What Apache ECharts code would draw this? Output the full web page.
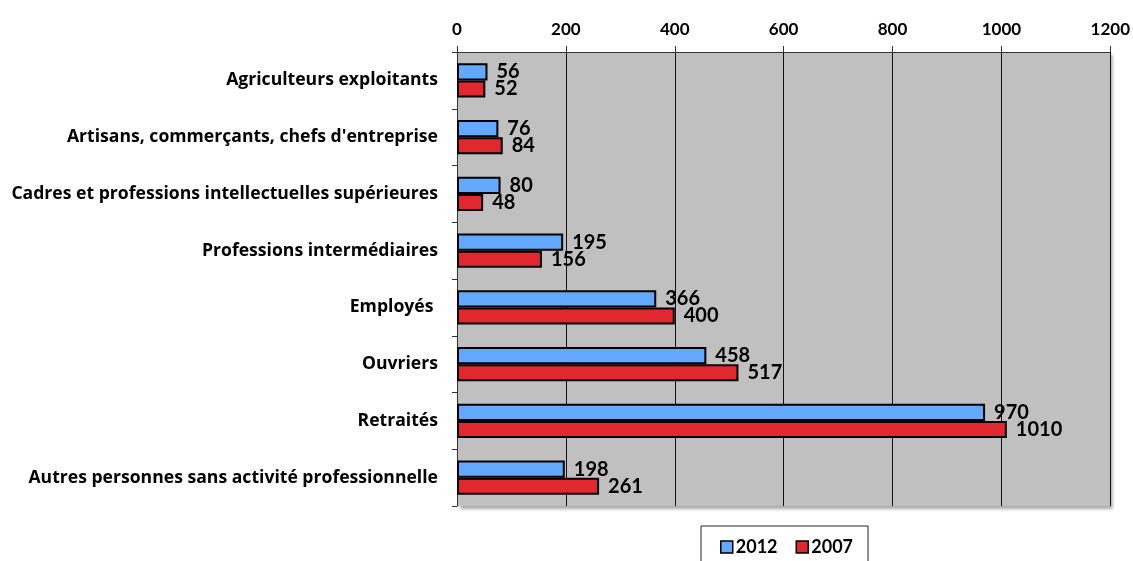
<!DOCTYPE html>
<html><head><meta charset="utf-8">
<script src="https://cdn.jsdelivr.net/npm/echarts@6/dist/echarts.min.js"></script>
<style>html,body{margin:0;padding:0;background:#fff}#c{width:1133px;height:561px}</style>
</head><body><div id="c"></div>
<script>
const categories = ["Agriculteurs exploitants","Artisans, commerçants, chefs d'entreprise","Cadres et professions intellectuelles supérieures","Professions intermédiaires","Employés ","Ouvriers","Retraités","Autres personnes sans activité professionnelle"];
const values2012 = [56,76,80,195,366,458,970,198];
const values2007 = [52,84,48,156,400,517,1010,261];
const xTicks = {min:0,max:1200,interval:200};
const FONT = 'Lato';
const chart = echarts.init(document.getElementById('c'));
const lbl = {show:true,position:'right',distance:9,color:'#000',fontFamily:FONT,fontWeight:'bold',fontSize:20};
chart.setOption({
  animation:false,
  grid:{left:457,right:22,top:52,bottom:55,show:true,backgroundColor:'#C0C0C0',borderWidth:0,shadowColor:'rgba(0,0,0,0.35)',shadowOffsetX:3,shadowOffsetY:3,shadowBlur:3},
  legend:{top:526,left:701,padding:[12,15,12,19],borderColor:'#222',borderWidth:1,itemWidth:12,itemHeight:12,itemGap:18,
    textStyle:{fontFamily:FONT,fontWeight:'bold',fontSize:18,color:'#000',padding:[0,0,0,-2]},
    data:[{name:'2012',icon:'rect',itemStyle:{borderColor:'#000',borderWidth:1.5}},{name:'2007',icon:'rect',itemStyle:{borderColor:'#000',borderWidth:1.5}}]},
  xAxis:{type:'value',position:'top',min:xTicks.min,max:xTicks.max,interval:xTicks.interval,
    axisLine:{show:true,lineStyle:{color:'#333',width:1}},axisTick:{show:true,length:6,lineStyle:{color:'#333'}},
    splitLine:{show:true,lineStyle:{color:'#111',width:1}},
    axisLabel:{color:'#000',fontFamily:FONT,fontWeight:'bold',fontSize:17,margin:14,formatter:v=>String(v)}},
  yAxis:{type:'category',inverse:true,data:categories,
    axisLine:{show:true,lineStyle:{color:'#333',width:1}},axisTick:{show:true,length:5,lineStyle:{color:'#333'}},
    axisLabel:{color:'#000',fontFamily:'Open Sans',fontWeight:'bold',fontSize:17.6,margin:19}},
  series:[
    {name:'2012',type:'bar',data:values2012,barGap:'0%',barCategoryGap:'40%',itemStyle:{color:'#62A9FF',borderColor:'#000',borderWidth:2},label:lbl},
    {name:'2007',type:'bar',data:values2007,itemStyle:{color:'#E0282E',borderColor:'#000',borderWidth:2},label:lbl}
  ]
});
</script></body></html>
